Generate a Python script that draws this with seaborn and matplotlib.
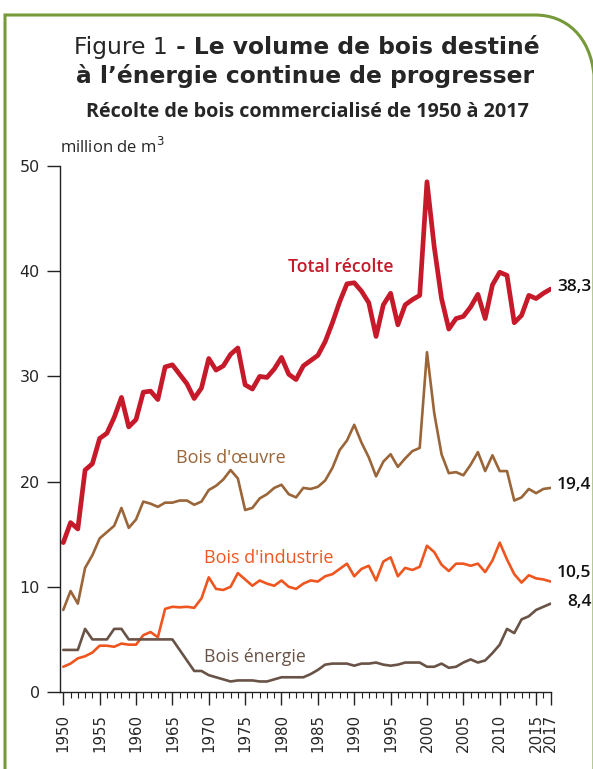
import pandas as pd
import seaborn as sns
import matplotlib.pyplot as plt
from matplotlib.path import Path
from matplotlib.patches import PathPatch
from matplotlib.ticker import MultipleLocator

# values (million m3)
years = list(range(1950, 2018))
total = [14.2, 16.1, 15.5, 21.1, 21.7, 24.1, 24.6, 26.1, 28.0, 25.2,
         25.9, 28.5, 28.6, 27.8, 30.9, 31.1, 30.2, 29.3, 27.9, 28.9,
         31.7, 30.6, 31.0, 32.1, 32.7, 29.2, 28.8, 30.0, 29.9, 30.7,
         31.8, 30.2, 29.7, 31.0, 31.5, 32.0, 33.3, 35.1, 37.1, 38.8,
         38.9, 38.1, 37.0, 33.8, 36.8, 37.9, 34.9, 36.8, 37.3, 37.7,
         48.5, 42.3, 37.4, 34.5, 35.5, 35.7, 36.6, 37.8, 35.5, 38.7,
         39.9, 39.6, 35.1, 35.8, 37.7, 37.4, 37.9, 38.3]
oeuvre = [7.8, 9.6, 8.4, 11.8, 13.0, 14.6, 15.2, 15.8, 17.5, 15.6,
          16.4, 18.1, 17.9, 17.6, 18.0, 18.0, 18.2, 18.2, 17.8, 18.1,
          19.2, 19.6, 20.2, 21.1, 20.3, 17.3, 17.5, 18.4, 18.8, 19.4,
          19.7, 18.8, 18.5, 19.4, 19.3, 19.5, 20.1, 21.3, 23.0, 23.9,
          25.4, 23.7, 22.3, 20.5, 21.9, 22.6, 21.4, 22.2, 22.9, 23.2,
          32.3, 26.5, 22.6, 20.8, 20.9, 20.6, 21.6, 22.8, 21.0, 22.5,
          21.0, 21.0, 18.2, 18.5, 19.3, 18.9, 19.3, 19.4]
industrie = [2.4, 2.7, 3.2, 3.4, 3.75, 4.4, 4.4, 4.3, 4.6, 4.5,
             4.5, 5.4, 5.7, 5.2, 7.9, 8.1, 8.05, 8.1, 8.0, 8.9,
             10.9, 9.8, 9.7, 10.0, 11.3, 10.7, 10.1, 10.6, 10.3, 10.1,
             10.6, 10.0, 9.8, 10.3, 10.6, 10.5, 11.0, 11.2, 11.7, 12.2,
             11.0, 11.7, 12.0, 10.6, 12.4, 12.8, 11.0, 11.8, 11.6, 11.9,
             13.9, 13.3, 12.1, 11.5, 12.2, 12.2, 12.0, 12.2, 11.4, 12.5,
             14.2, 12.6, 11.2, 10.4, 11.1, 10.8, 10.7, 10.5]
energie = [4.0, 4.0, 4.0, 6.0, 5.0, 5.0, 5.0, 6.0, 6.0, 5.0,
           5.0, 5.0, 5.0, 5.0, 5.0, 5.0, 4.0, 3.0, 2.0, 2.0,
           1.6, 1.4, 1.2, 1.0, 1.1, 1.1, 1.1, 1.0, 1.0, 1.2,
           1.4, 1.4, 1.4, 1.4, 1.7, 2.1, 2.6, 2.7, 2.7, 2.7,
           2.5, 2.7, 2.7, 2.8, 2.6, 2.5, 2.6, 2.8, 2.8, 2.8,
           2.4, 2.4, 2.7, 2.3, 2.4, 2.8, 3.1, 2.8, 3.0, 3.7,
           4.5, 6.0, 5.6, 6.9, 7.2, 7.8, 8.1, 8.4]

series = ['Total récolte', "Bois d'œuvre", "Bois d'industrie", 'Bois énergie']
colors = ['#c61a2b', '#9a6538', '#ef561f', '#695347']
end_labels = ['38,3', '19,4', '10,5', '8,4']
tick_years = list(range(1950, 2016, 5)) + [2017]

df = pd.DataFrame({'annee': years, series[0]: total, series[1]: oeuvre,
                   series[2]: industrie, series[3]: energie})
df = df.melt(id_vars='annee', var_name='serie', value_name='valeur')

sns.set_style('ticks')
plt.rcParams['font.family'] = ['DejaVu Sans']

W, H = 593, 769
fig = plt.figure(figsize=(W / 100, H / 100), dpi=100)
ax = fig.add_axes([60 / W, 77 / H, 491 / W, 526 / H])

for i, name in enumerate(series):
    sns.lineplot(data=df[df.serie == name], x='annee', y='valeur',
                 color=colors[i], linewidth=3.4 if i == 0 else 1.9,
                 legend=False, ax=ax)

ax.set_xlim(1949.55, 2017.05)
ax.set_ylim(0, 50)
ax.set_xlabel('')
ax.set_ylabel('')
sns.despine(ax=ax)
for s in ['left', 'bottom']:
    ax.spines[s].set_linewidth(1.0)
    ax.spines[s].set_color('#222222')

ax.yaxis.set_major_locator(MultipleLocator(10))
ax.tick_params(axis='y', length=9.5, width=1.0, pad=5, labelsize=11.5,
               color='#222222')
ax.xaxis.set_minor_locator(MultipleLocator(1))
ax.set_xticks(tick_years)
ax.set_xticklabels([str(y) for y in tick_years], rotation=90)
ax.tick_params(axis='x', which='major', length=9.5, width=1.0, pad=6,
               labelsize=10.8, color='#222222')
ax.tick_params(axis='x', which='minor', length=4.3, width=0.8,
               color='#222222')

# series labels
lab_font = ['Open Sans', 'DejaVu Sans']
ax.text(1988.1, 40.4, series[0], color=colors[0], fontsize=12.7,
        fontweight='semibold', ha='center', va='center', family=lab_font)
ax.text(1973.1, 22.2, series[1], color=colors[1], fontsize=13,
        ha='center', va='center', family=lab_font)
ax.text(1978.2, 12.7, series[2], color=colors[2], fontsize=13,
        ha='center', va='center', family=lab_font)
ax.text(1976.3, 3.3, series[3], color=colors[3], fontsize=12.8,
        ha='center', va='center', family=lab_font)

# last values
for lab, yv in zip(end_labels, [38.5, 19.7, 11.3, 8.6]):
    ax.text(2022.6, yv, lab, fontsize=12.5, fontweight='semibold',
            ha='right', va='center', family=lab_font, clip_on=False,
            color='#111111')

fig.text(60 / W, 1 - 153 / H, 'million de m$^3$', fontsize=12,
         family=lab_font, ha='left', va='baseline')

# title, mixed weights on the first line
r = fig.canvas.get_renderer()
t1 = fig.text(0, 1 - 54 / H, 'Figure 1', fontsize=16.8, va='baseline')
t2 = fig.text(0, 1 - 54 / H, ' - Le volume de bois destiné', fontsize=16.8,
              fontweight='bold', va='baseline')
w1 = t1.get_window_extent(r).width
w2 = t2.get_window_extent(r).width
x0 = 306.5 - (w1 + w2) / 2
t1.set_x(x0 / W)
t2.set_x((x0 + w1) / W)
fig.text(305 / W, 1 - 83 / H, 'à l’énergie continue de progresser',
         fontsize=16.8, fontweight='bold', ha='center', va='baseline')
fig.text(307 / W, 1 - 117 / H, 'Récolte de bois commercialisé de 1950 à 2017',
         fontsize=14.2, fontweight='bold', ha='center', va='baseline',
         family=lab_font)

# green frame with rounded top-right corner
pts = [(5, 790), (5, 15), (535, 15), (566, 15), (590, 36), (594, 75), (594, 790)]
codes = [Path.MOVETO, Path.LINETO, Path.LINETO, Path.CURVE4, Path.CURVE4,
         Path.CURVE4, Path.LINETO]
frame = Path([(x / W, 1 - y / H) for x, y in pts], codes)
fig.patches.append(PathPatch(frame, transform=fig.transFigure, fill=False,
                             edgecolor='#76993a', linewidth=2.2))

fig.savefig('out.png', dpi=100)
